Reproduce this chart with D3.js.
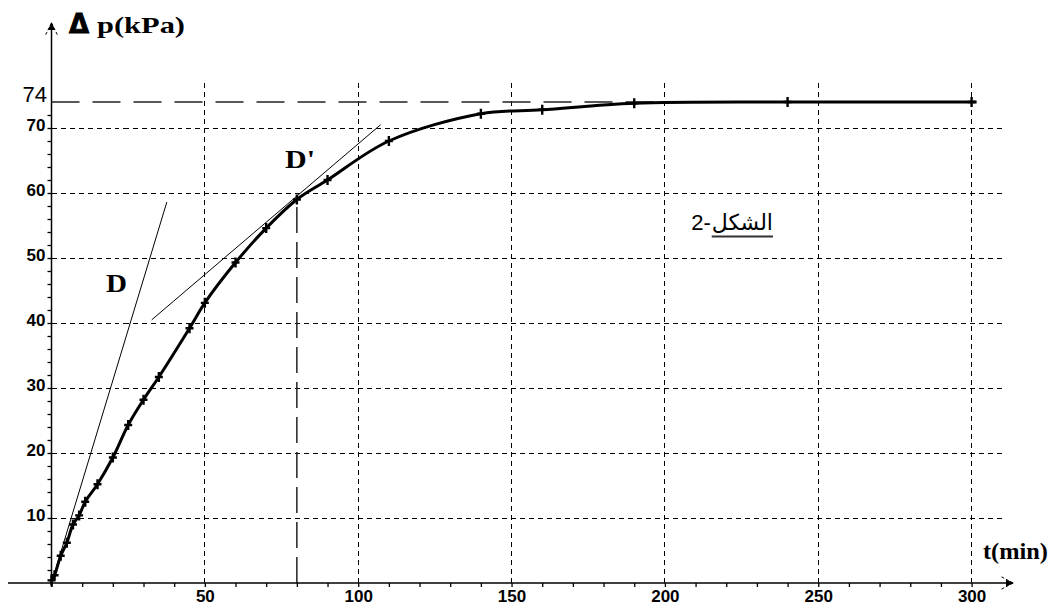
<!DOCTYPE html>
<html>
<head>
<meta charset="utf-8">
<script src="https://cdn.jsdelivr.net/npm/d3@7"></script>
<style>
  body { margin: 0; background: #fff; }
  svg { display: block; }
</style>
</head>
<body>
<div id="chart"></div>
<script>
// measured points of the pressure curve
var times = [0, 1, 3, 5, 7, 9, 11, 15, 20, 25, 30, 35, 45, 50, 60, 70, 80, 90, 110, 140, 160, 190, 240, 300];
var pressures = [0.4, 1.2, 4.2, 6.2, 9.0, 10.4, 12.5, 15.2, 19.3, 24.3, 28.2, 31.7, 39.2, 43.1, 49.3, 54.6, 59.0, 62.0, 68.0, 72.2, 72.8, 73.8, 74, 74];

var xLabels = [50, 100, 150, 200, 250, 300];
var yLabels = [10, 20, 30, 40, 50, 60, 70];
var xMinor = d3.range(0, 301, 10);
var yMinor = d3.range(2, 73, 2);

// tangents D (at origin) and D' (at t = 80 min)
var tangentD = [[0, 0], [37.6, 58.6]];
var tangentD2 = [[32.7, 40.5], [107.3, 70.5]];
var tMark = 80, pMark = 59;
var pMax = 74;

var width = 1058, height = 607;
var svg = d3.select("#chart").append("svg")
	.attr("width", width)
	.attr("height", height);

var x = d3.scaleLinear().domain([0, 300]).range([51.5, 971.6]);
var y = d3.scaleLinear().domain([0, 74]).range([583, 102]);

// grid
var grid = svg.append("g").attr("stroke", "#000").attr("stroke-width", 1)
	.attr("stroke-dasharray", "5,4").attr("shape-rendering", "crispEdges");
grid.selectAll("line.v").data(xLabels).enter().append("line")
	.attr("x1", function(d) { return x(d); }).attr("x2", function(d) { return x(d); })
	.attr("y1", y(0)).attr("y2", 82);
grid.selectAll("line.h").data(yLabels).enter().append("line")
	.attr("x1", x(0)).attr("x2", 1003)
	.attr("y1", function(d) { return y(d); }).attr("y2", function(d) { return y(d); });

// asymptote at 74 and the t = 80 marker line
svg.append("line")
	.attr("x1", x(0)).attr("x2", x(300))
	.attr("y1", y(pMax)).attr("y2", y(pMax))
	.attr("stroke", "#222").attr("stroke-width", 1.5).attr("stroke-dasharray", "28,13");
svg.append("line")
	.attr("x1", x(tMark)).attr("x2", x(tMark))
	.attr("y1", y(0)).attr("y2", y(pMark))
	.attr("stroke", "#222").attr("stroke-width", 1.5).attr("stroke-dasharray", "26,9");

// axes
var xAxis = d3.axisBottom(x).tickValues(xMinor).tickSize(4).tickPadding(3)
	.tickFormat(function(d) { return d % 50 === 0 && d > 0 ? d : ""; });
var gx = svg.append("g").attr("transform", "translate(0," + y(0) + ")").call(xAxis);
var yAxis = d3.axisLeft(y).tickValues(yMinor).tickSize(4).tickPadding(2)
	.tickFormat(function(d) { return d % 10 === 0 ? d : ""; });
var gy = svg.append("g").attr("transform", "translate(" + x(0) + ",0)").call(yAxis);
[gx, gy].forEach(function(g) {
	g.select(".domain").remove();
	g.selectAll(".tick line").attr("stroke", "#000").attr("stroke-width", 1.3);
	g.selectAll(".tick text")
		.attr("fill", "#000")
		.style("font-family", "'Liberation Sans', Arial, sans-serif")
		.style("font-weight", "bold")
		.style("font-size", "17px");
});
gy.selectAll(".tick text").attr("dy", "0.15em");
gx.selectAll(".tick text").attr("dy", "0.68em");

svg.append("line").attr("x1", 8).attr("x2", 1012).attr("y1", y(0)).attr("y2", y(0))
	.attr("stroke", "#000").attr("stroke-width", 1.5);
svg.append("line").attr("x1", x(0)).attr("x2", x(0)).attr("y1", 587).attr("y2", 24)
	.attr("stroke", "#000").attr("stroke-width", 1.5);

// arrow heads
svg.append("path").attr("d", "M1013,583 L1000,576 M1013,583 L1000,590")
	.attr("stroke", "#000").attr("stroke-width", 1).attr("stroke-dasharray", "3,2").attr("fill", "none");
svg.append("path").attr("d", "M1014,583 L1006,579.5 L1006,586.5 Z").attr("fill", "#000");
svg.append("path").attr("d", "M51.5,23 L45,36 M51.5,23 L58,36")
	.attr("stroke", "#000").attr("stroke-width", 1).attr("stroke-dasharray", "3,2").attr("fill", "none");
svg.append("path").attr("d", "M51.5,22 L48,30 L55,30 Z").attr("fill", "#000");

// tangent lines
var thin = d3.line().x(function(d) { return x(d[0]); }).y(function(d) { return y(d[1]); });
[tangentD, tangentD2].forEach(function(t) {
	svg.append("path").attr("d", thin(t)).attr("stroke", "#000").attr("stroke-width", 1).attr("fill", "none");
});

// curve
var pts = times.map(function(t, i) { return [t, pressures[i]]; });
var curve = d3.line().x(function(d) { return x(d[0]); }).y(function(d) { return y(d[1]); })
	.curve(d3.curveCatmullRom.alpha(0.5));
svg.append("path").attr("d", curve(pts))
	.attr("fill", "none").attr("stroke", "#000").attr("stroke-width", 3);
svg.append("line").attr("x1", x(300)).attr("x2", x(300) + 5).attr("y1", y(74)).attr("y2", y(74))
	.attr("stroke", "#000").attr("stroke-width", 3);

var marks = svg.append("g").attr("stroke", "#000").attr("stroke-width", 2.4);
marks.selectAll("path").data(pts).enter().append("path")
	.attr("d", function(d) {
		var cx = x(d[0]), cy = y(d[1]);
		return "M" + cx + "," + (cy - 5) + "V" + (cy + 5) + "M" + (cx - 4) + "," + cy + "H" + (cx + 4);
	});

// labels
svg.append("text").attr("x", 47).attr("y", 102)
	.attr("text-anchor", "end")
	.style("font-family", "'Liberation Sans', Arial, sans-serif")
	.style("font-size", "22px")
	.text(pMax);

svg.append("text").attr("x", 69).attr("y", 33)
	.style("font-family", "'DejaVu Sans', sans-serif")
	.style("font-weight", "bold").style("font-size", "26px")
	.style("stroke", "#000").style("stroke-width", 0.8)
	.text("\u0394");
svg.append("text").attr("x", 97).attr("y", 33)
	.attr("textLength", 88).attr("lengthAdjust", "spacingAndGlyphs")
	.style("font-family", "'Liberation Serif', 'Times New Roman', serif")
	.style("font-weight", "bold").style("font-size", "23px")
	.text("p(kPa)");
svg.append("text").attr("x", 983).attr("y", 559)
	.attr("textLength", 65).attr("lengthAdjust", "spacingAndGlyphs")
	.style("font-family", "'Liberation Serif', 'Times New Roman', serif")
	.style("font-weight", "bold").style("font-size", "23px")
	.text("t(min)");

svg.append("text").attr("x", 106).attr("y", 292)
	.attr("textLength", 21).attr("lengthAdjust", "spacingAndGlyphs")
	.style("font-family", "'Liberation Serif', 'Times New Roman', serif")
	.style("font-weight", "bold").style("font-size", "26px")
	.text("D");
svg.append("text").attr("x", 285).attr("y", 168)
	.attr("textLength", 30).attr("lengthAdjust", "spacingAndGlyphs")
	.style("font-family", "'Liberation Serif', 'Times New Roman', serif")
	.style("font-weight", "bold").style("font-size", "26px")
	.text("D'");

// figure caption
var cap = svg.append("text").attr("x", 773).attr("y", 230)
	.attr("text-anchor", "end")
	.style("font-family", "'DejaVu Sans', sans-serif")
	.style("font-size", "22px")
	.text("\u0627\u0644\u0634\u0643\u0644");
var capW = cap.node().getComputedTextLength();
svg.append("line").attr("x1", 773 - capW).attr("x2", 773).attr("y1", 236.5).attr("y2", 236.5)
	.attr("stroke", "#333").attr("stroke-width", 2);
svg.append("text").attr("x", 773 - capW - 1).attr("y", 230)
	.attr("text-anchor", "end")
	.style("font-family", "'Liberation Sans', Arial, sans-serif")
	.style("font-size", "22px")
	.text("2-");
</script>
</body>
</html>
